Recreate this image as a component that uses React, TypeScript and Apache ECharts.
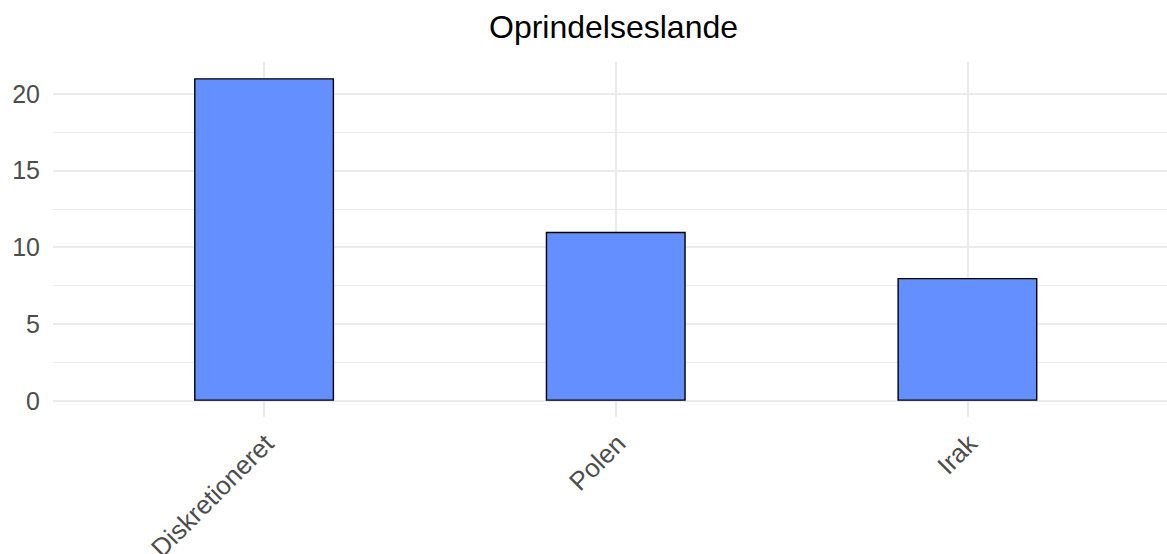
import React, { useEffect, useRef } from "react";
import * as echarts from "echarts";

const categories = ["Diskretioneret", "Polen", "Irak"];
const counts = [21, 11, 8];
const majorTicks = [0, 5, 10, 15, 20];
const minorTicks = [2.5, 7.5, 12.5, 17.5];
const titleText = "Oprindelseslande";

const Y_MIN = -1.05;
const Y_MAX = 22.05;

export default function App() {
  const ref = useRef<HTMLDivElement>(null);
  useEffect(() => {
    if (!ref.current) return;
    const chart = echarts.init(ref.current, undefined, { renderer: "svg" });
    const font = "Liberation Sans, Arial, Helvetica, sans-serif";
    const top = 62;
    const bottom = 137;
    const barLeft = 88.25;
    const barRight = 23.75;
    const labelShift = 5;
    const hiddenY = (gridIndex: number) => ({
      type: "value",
      gridIndex,
      min: Y_MIN,
      max: Y_MAX,
      show: false,
      splitLine: { show: false },
    });
    const gridBase = { top, bottom, containLabel: false, outerBoundsMode: "none" };
    const option: any = {
      animation: false,
      backgroundColor: "#ffffff",
      textStyle: { fontFamily: font },
      title: {
        text: titleText,
        left: 613.5,
        top: 11,
        textAlign: "center",
        padding: 0,
        textStyle: { fontFamily: font, fontSize: 32, fontWeight: "normal", color: "#000000" },
      },
      grid: [
        { ...gridBase, left: 53, right: 0 },
        { ...gridBase, left: barLeft, right: barRight },
        { ...gridBase, left: barLeft + labelShift, right: barRight - labelShift },
      ],
      xAxis: [
        { type: "value", gridIndex: 0, min: 0, max: 1, show: false, splitLine: { show: false } },
        {
          type: "category",
          gridIndex: 1,
          data: categories,
          axisLine: { show: false, onZero: false },
          axisTick: { show: false },
          axisLabel: { show: false },
          splitLine: { show: false },
        },
        {
          type: "category",
          gridIndex: 2,
          data: categories,
          axisLine: { show: false, onZero: false },
          axisTick: { show: false },
          splitLine: { show: false },
          axisLabel: {
            show: true,
            interval: 0,
            rotate: 45,
            margin: 22,
            fontSize: 26,
            color: "#4d4d4d",
            fontFamily: font,
          },
        },
      ],
      yAxis: [
        {
          type: "value",
          gridIndex: 0,
          min: Y_MIN,
          max: Y_MAX,
          axisLine: { show: false },
          axisTick: { show: false },
          splitLine: { show: false },
          axisLabel: {
            show: true,
            showMinLabel: false,
            showMaxLabel: false,
            margin: 13,
            fontSize: 25,
            color: "#4d4d4d",
            fontFamily: font,
          },
        },
        hiddenY(1),
        hiddenY(2),
      ],
      series: [
        {
          type: "line",
          xAxisIndex: 0,
          yAxisIndex: 0,
          data: [],
          silent: true,
          markLine: {
            silent: true,
            symbol: "none",
            label: { show: false },
            z: 1,
            data: [
              ...minorTicks.map((v) => ({ yAxis: v, lineStyle: { color: "#ebebeb", width: 1.1, type: "solid" } })),
              ...majorTicks.map((v) => ({ yAxis: v, lineStyle: { color: "#ebebeb", width: 2.2, type: "solid" } })),
            ],
          },
        },
        {
          type: "line",
          xAxisIndex: 1,
          yAxisIndex: 1,
          data: [],
          silent: true,
          markLine: {
            silent: true,
            symbol: "none",
            label: { show: false },
            z: 1,
            data: categories.map((c) => ({ xAxis: c, lineStyle: { color: "#ebebeb", width: 2.2, type: "solid" } })),
          },
        },
        {
          type: "bar",
          xAxisIndex: 1,
          yAxisIndex: 1,
          data: counts,
          barWidth: 140,
          z: 10,
          itemStyle: { color: "#648FFF", borderColor: "#000000", borderWidth: 1.4 },
        },
      ],
    };
    chart.setOption(option);
    return () => chart.dispose();
  }, []);
  return (
    <div
      ref={ref}
      style={{ position: "absolute", left: 0, top: 0, width: 1167, height: 554, background: "#fff" }}
    />
  );
}
